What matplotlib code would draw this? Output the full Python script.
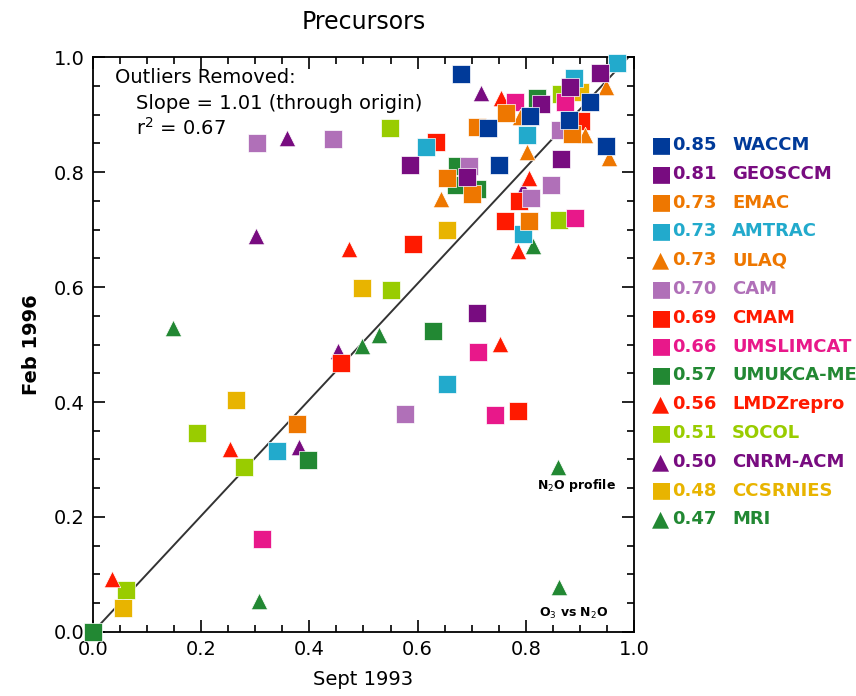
import numpy as np
import matplotlib
matplotlib.use("Agg")
import matplotlib.pyplot as plt
from matplotlib.ticker import MultipleLocator

# model names, r^2 values and colours (legend order)
models = ['WACCM', 'GEOSCCM', 'EMAC', 'AMTRAC', 'ULAQ', 'CAM', 'CMAM', 'UMSLIMCAT',
          'UMUKCA-METO', 'LMDZrepro', 'SOCOL', 'CNRM-ACM', 'CCSRNIES', 'MRI']
r2_vals = [0.85, 0.81, 0.73, 0.73, 0.73, 0.70, 0.69, 0.66, 0.57, 0.56, 0.51, 0.50, 0.48, 0.47]
markers = ['s', 's', 's', 's', '^', 's', 's', 's', 's', '^', 's', '^', 's', '^']
colors = ['#003a99', '#780c80', '#ee7700', '#22aacc', '#ee7700', '#b070b8', '#ff1a00',
          '#e8188a', '#228833', '#ff1a00', '#99cc00', '#780c80', '#e8b400', '#228833']

# Sept 1993 (x) vs Feb 1996 (y) per model
x_waccm = [0.680, 0.731, 0.750, 0.807, 0.880, 0.919, 0.948]
y_waccm = [0.970, 0.876, 0.812, 0.897, 0.890, 0.922, 0.845]
x_geos = [0.586, 0.692, 0.710, 0.829, 0.866, 0.882, 0.937]
y_geos = [0.812, 0.792, 0.555, 0.919, 0.822, 0.948, 0.973]
x_emac = [0.377, 0.654, 0.701, 0.710, 0.763, 0.806, 0.885]
y_emac = [0.361, 0.789, 0.762, 0.879, 0.903, 0.715, 0.867]
x_amtrac = [0.341, 0.615, 0.655, 0.795, 0.803, 0.889, 0.969]
y_amtrac = [0.315, 0.844, 0.432, 0.692, 0.864, 0.963, 0.989]
x_ulaq = [0.643, 0.790, 0.803, 0.909, 0.948, 0.953]
y_ulaq = [0.753, 0.895, 0.835, 0.864, 0.948, 0.824]
x_cam = [0.303, 0.443, 0.577, 0.695, 0.810, 0.846, 0.863]
y_cam = [0.850, 0.857, 0.379, 0.810, 0.754, 0.777, 0.874]
x_cmam = [0.458, 0.592, 0.635, 0.762, 0.785, 0.787, 0.903]
y_cmam = [0.468, 0.675, 0.853, 0.715, 0.385, 0.750, 0.888]
x_umslim = [0.312, 0.712, 0.743, 0.780, 0.872, 0.891]
y_umslim = [0.162, 0.487, 0.377, 0.922, 0.922, 0.720]
x_umukca = [0.0, 0.397, 0.629, 0.671, 0.673, 0.710, 0.820]
y_umukca = [0.0, 0.299, 0.524, 0.777, 0.810, 0.770, 0.928]
x_lmdz = [0.035, 0.253, 0.474, 0.752, 0.755, 0.786, 0.806]
y_lmdz = [0.093, 0.318, 0.666, 0.501, 0.928, 0.663, 0.790]
x_socol = [0.061, 0.193, 0.279, 0.549, 0.550, 0.861, 0.866]
y_socol = [0.073, 0.346, 0.287, 0.876, 0.595, 0.717, 0.935]
x_cnrm = [0.301, 0.359, 0.381, 0.453, 0.718, 0.795]
y_cnrm = [0.688, 0.860, 0.322, 0.489, 0.937, 0.770]
x_ccsr = [0.055, 0.264, 0.498, 0.654, 0.900]
y_ccsr = [0.041, 0.403, 0.598, 0.700, 0.940]
x_mri = [0.148, 0.307, 0.498, 0.529, 0.814, 0.859, 0.862]
y_mri = [0.528, 0.053, 0.497, 0.517, 0.671, 0.287, 0.079]

xs = [x_waccm, x_geos, x_emac, x_amtrac, x_ulaq, x_cam, x_cmam, x_umslim,
      x_umukca, x_lmdz, x_socol, x_cnrm, x_ccsr, x_mri]
ys = [y_waccm, y_geos, y_emac, y_amtrac, y_ulaq, y_cam, y_cmam, y_umslim,
      y_umukca, y_lmdz, y_socol, y_cnrm, y_ccsr, y_mri]

slope = 1.01

fig = plt.figure(figsize=(8.56, 6.96), dpi=100)
ax = fig.add_axes([0.1086, 0.092, 0.632, 0.826])

# draw in reverse legend order so the top models end up on top
for i in reversed(range(len(models))):
    ax.scatter(xs[i], ys[i], marker=markers[i], s=150 if markers[i] == 's' else 140,
               color=colors[i], edgecolors='white', linewidths=0.5, zorder=3,
               clip_on=False)

xl = np.array([0.0, 1.0])
ax.plot(xl, slope * xl, color='#333333', lw=1.4, zorder=2)

ax.set_xlim(0, 1)
ax.set_ylim(0, 1)
ax.xaxis.set_major_locator(MultipleLocator(0.2))
ax.yaxis.set_major_locator(MultipleLocator(0.2))
ax.xaxis.set_minor_locator(MultipleLocator(0.05))
ax.yaxis.set_minor_locator(MultipleLocator(0.05))
ax.tick_params(which='both', direction='in', top=True, right=True, width=1.2)
ax.tick_params(which='major', length=8.5, labelsize=14, pad=6)
ax.tick_params(which='minor', length=5)
for sp in ax.spines.values():
    sp.set_linewidth(1.3)

ax.set_title('Precursors', fontsize=17, pad=20)
ax.set_xlabel('Sept 1993', fontsize=14, labelpad=8)
ax.set_ylabel('Feb 1996', fontsize=14, fontweight='bold', labelpad=9)

ax.text(0.04, 0.965, 'Outliers Removed:', transform=ax.transAxes, fontsize=14, va='center')
ax.text(0.08, 0.92, 'Slope = 1.01 (through origin)', transform=ax.transAxes,
        fontsize=14, va='center')
ax.text(0.08, 0.877, r'r$^2$ = 0.67', transform=ax.transAxes, fontsize=14, va='center')

ax.text(0.893, 0.255, r'N$_2$O profile', fontsize=9, fontweight='bold', ha='center', va='center')
ax.text(0.889, 0.033, r'O$_3$ vs N$_2$O', fontsize=9, fontweight='bold', ha='center', va='center')

# legend column on the right, text runs off the figure edge like the original
for i, name in enumerate(models):
    yf = 1 - (145 + i * 28.8) / 696
    fig.text(661 / 856, yf, '\u25A0' if markers[i] == 's' else '\u25B2',
             color=colors[i], fontsize=16, ha='center', va='center')
    fig.text(672 / 856, yf, f'{r2_vals[i]:.2f}', color=colors[i], fontsize=13,
             fontweight='bold', va='center')
    fig.text(732 / 856, yf, name, color=colors[i], fontsize=13,
             fontweight='bold', va='center')

fig.savefig('out.png', dpi=100)
